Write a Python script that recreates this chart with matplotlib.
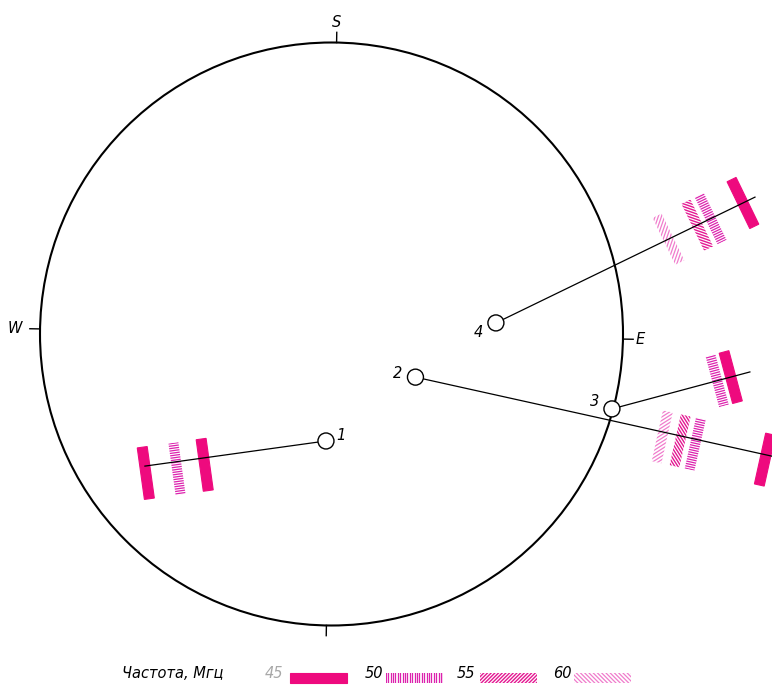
import numpy as np
import matplotlib
matplotlib.use("Agg")
import matplotlib.pyplot as plt
from matplotlib.patches import Circle, Polygon
from matplotlib.collections import LineCollection

# --- данные (в долях радиуса круга, центр в (0, 0)) ---
stations = ["1", "2", "3", "4"]
station_x = [-0.019, 0.288, 0.962, 0.564]
station_y = [-0.367, -0.148, -0.257, 0.038]
ray_angle = [187.9, -12.5, 15.0, 25.9]      # направление луча, градусы
ray_length = [0.627, 1.45, 0.49, 0.988]

# расстояния полос от станции вдоль луча и частоты (МГц)
bar_dist = [
    [0.420, 0.516, 0.624],
    [0.867, 0.930, 0.983, 1.228],
    [0.374, 0.422],
    [0.658, 0.768, 0.819, 0.942],
]
bar_freq = [
    [45, 50, 45],
    [60, 55, 50, 45],
    [50, 45],
    [60, 55, 50, 45],
]

legend_freq = [45, 50, 55, 60]

# --- оформление ---
PX = 1 / 291.5          # один пиксель в единицах радиуса
CX, CY = 331.5, 334     # центр круга в пикселях картинки
W, H = 772, 693

colors = {45: "#ee0a7e", 50: "#dc22ae", 55: "#e41892", 60: "#f07ccc"}
# (угол штриховки относительно длинной оси полосы, шаг в пикселях, толщина)
hatch = {50: (90, 2.4, 0.9), 55: (-45, 2.6, 1.0), 60: (45, 3.0, 0.9)}
# на лучах 1 и 2 полосы чуть ниже линии (пиксели)
bar_shift = [7, 5, 0, 0]


def px2d(px, py):
    return (px - CX) * PX, (CY - py) * PX


def draw_bar(ax, cx, cy, ux, uy, length, width, freq):
    # u - поперёк полосы, v - вдоль длинной стороны
    vx, vy = -uy, ux
    hl, hw = length / 2, width / 2
    corners = [
        (cx + ux * hw + vx * hl, cy + uy * hw + vy * hl),
        (cx - ux * hw + vx * hl, cy - uy * hw + vy * hl),
        (cx - ux * hw - vx * hl, cy - uy * hw - vy * hl),
        (cx + ux * hw - vx * hl, cy + uy * hw - vy * hl),
    ]
    if freq == 45:
        ax.add_patch(Polygon(corners, closed=True, facecolor=colors[45],
                             edgecolor=colors[45], lw=0.8, zorder=3))
        return
    clip = Polygon(corners, closed=True, facecolor="none", edgecolor="none")
    ax.add_patch(clip)
    ang, step, lw = hatch[freq]
    a = np.radians(ang)
    # направление штриха
    dx = vx * np.cos(a) + ux * np.sin(a)
    dy = vy * np.cos(a) + uy * np.sin(a)
    nx, ny = -dy, dx
    segs = []
    for t in np.arange(-length, length, step * PX):
        px_, py_ = cx + nx * t, cy + ny * t
        segs.append([(px_ - dx * length, py_ - dy * length),
                     (px_ + dx * length, py_ + dy * length)])
    lc = LineCollection(segs, colors=colors[freq], linewidths=lw, zorder=3)
    lc.set_clip_path(clip)
    ax.add_collection(lc)


fig = plt.figure(figsize=(W / 100, H / 100), dpi=100)
ax = fig.add_axes([0, 0, 1, 1])
ax.set_xlim(-CX * PX, (W - CX) * PX)
ax.set_ylim((CY - H) * PX, CY * PX)
ax.set_aspect("equal")
ax.axis("off")

# круг и стороны света
ax.add_patch(Circle((0, 0), 1.0, fill=False, lw=1.5, color="black", zorder=2))
rot = np.radians(-1.0)
label_r = {"E": 1.06, "S": 1.07, "W": 1.085}
for name, base in [("E", 0), ("S", 90), ("W", 180), ("", 270)]:
    t = np.radians(base) + rot
    c, s = np.cos(t), np.sin(t)
    ax.plot([c, 1.035 * c], [s, 1.035 * s], color="black", lw=1.0)
    if name:
        r = label_r[name]
        ax.text(r * c, r * s, name, fontsize=10.5, fontstyle="italic",
                ha="center", va="center")

# лучи, станции и полосы
label_off = {"1": (15, 5), "2": (-18, 4), "3": (-17, 7), "4": (-18, -10)}
for i, st in enumerate(stations):
    x0, y0 = station_x[i], station_y[i]
    a = np.radians(ray_angle[i])
    ux, uy = np.cos(a), np.sin(a)
    r0 = 8 * PX
    ax.plot([x0 + ux * r0, x0 + ux * ray_length[i]],
            [y0 + uy * r0, y0 + uy * ray_length[i]],
            color="black", lw=0.9, zorder=4)
    ax.add_patch(Circle((x0, y0), r0, facecolor="white", edgecolor="black",
                        lw=1.0, zorder=5))
    ox, oy = label_off[st]
    ax.text(x0 + ox * PX, y0 + oy * PX, st, fontsize=10.5, fontstyle="italic",
            ha="center", va="center")
    for d, f in zip(bar_dist[i], bar_freq[i]):
        bx = x0 + ux * d
        by = y0 + uy * d - bar_shift[i] * PX
        draw_bar(ax, bx, by, ux, uy, 52 * PX, 10 * PX, f)

# легенда
tx, ty = px2d(122, 674)
ax.text(tx, ty, "Частота, Мгц", fontsize=10.5, fontstyle="italic",
        ha="left", va="center")
leg_num_x = [274, 374, 466, 562]
leg_bar_x = [318.5, 414, 508.5, 602.5]
for k, f in enumerate(legend_freq):
    nx_, ny_ = px2d(leg_num_x[k], 673)
    ax.text(nx_, ny_, str(f), fontsize=10.5, fontstyle="italic",
            ha="center", va="center",
            color="#a8a8a8" if f == 45 else "black")
    bx, by = px2d(leg_bar_x[k], 678)
    draw_bar(ax, bx, by, 0.0, -1.0, 57 * PX, 10 * PX, f)

fig.savefig("out.png", dpi=100)
